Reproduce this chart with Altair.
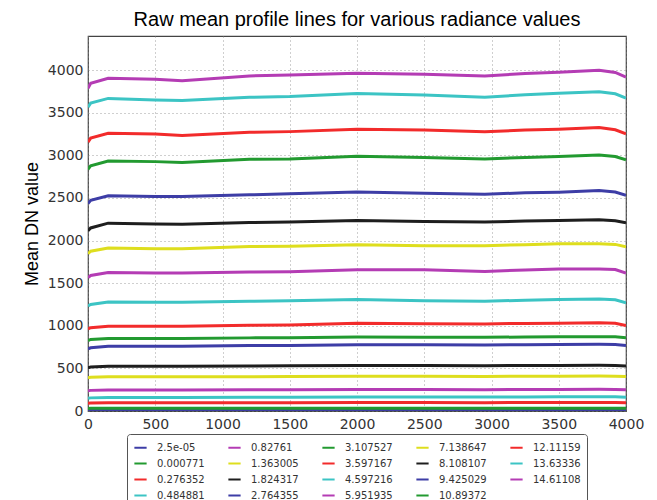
import altair as alt
import pandas as pd

# Column (pixel) positions along the profile where values were read
x_pixels = [0, 20, 150, 500, 700, 1200, 1500, 2000, 2500, 2950, 3250, 3500, 3800, 3920, 4000]

# Radiance values (legend labels), in plotting order
radiance_labels = ["2.5e-05", "0.000771", "0.276352", "0.484881", "0.82761",
                   "1.363005", "1.824317", "2.764355", "3.107527", "3.597167",
                   "4.597216", "5.951935", "7.138647", "8.108107", "9.425029",
                   "10.89372", "12.11159", "13.63336", "14.61108"]

# Mean DN values, one list per radiance
dn_00 = [8, 8, 9, 9, 9, 9, 9, 9, 9, 9, 9, 9, 9, 9, 9]
dn_01 = [30, 31, 32, 32, 32, 32, 32, 33, 33, 33, 33, 33, 33, 33, 32]
dn_02 = [92, 94, 97, 97, 97, 97, 98, 99, 99, 98, 99, 99, 100, 99, 97]
dn_03 = [150, 154, 158, 158, 158, 160, 161, 165, 164, 163, 165, 166, 167, 166, 162]
dn_04 = [238, 242, 246, 246, 246, 248, 249, 252, 251, 250, 252, 253, 254, 253, 249]
dn_05 = [390, 395, 401, 401, 401, 403, 404, 408, 407, 406, 408, 409, 410, 409, 404]
dn_06 = [508, 516, 526, 526, 526, 528, 530, 534, 533, 532, 533, 534, 536, 535, 529]
dn_07 = [728, 742, 760, 760, 760, 768, 770, 778, 776, 775, 778, 780, 782, 780, 768]
dn_08 = [826, 840, 852, 852, 852, 858, 860, 868, 866, 865, 868, 870, 872, 870, 858]
dn_09 = [962, 978, 995, 994, 994, 1005, 1010, 1030, 1024, 1022, 1028, 1030, 1034, 1030, 1002]
dn_10 = [1232, 1250, 1280, 1275, 1275, 1287, 1295, 1307, 1295, 1287, 1300, 1307, 1315, 1305, 1268]
dn_11 = [1565, 1590, 1626, 1619, 1619, 1631, 1635, 1658, 1658, 1638, 1655, 1666, 1666, 1660, 1618]
dn_12 = [1845, 1875, 1912, 1904, 1904, 1930, 1932, 1951, 1940, 1939, 1952, 1962, 1962, 1955, 1928]
dn_13 = [2115, 2148, 2204, 2194, 2192, 2212, 2217, 2234, 2224, 2217, 2228, 2235, 2244, 2232, 2208]
dn_14 = [2435, 2472, 2526, 2518, 2516, 2536, 2548, 2570, 2556, 2544, 2560, 2568, 2587, 2570, 2532]
dn_15 = [2835, 2878, 2934, 2926, 2915, 2954, 2958, 2990, 2973, 2958, 2975, 2985, 3005, 2985, 2948]
dn_16 = [3155, 3202, 3258, 3250, 3232, 3270, 3278, 3305, 3296, 3278, 3296, 3306, 3325, 3300, 3252]
dn_17 = [3565, 3612, 3668, 3650, 3642, 3680, 3689, 3726, 3707, 3680, 3712, 3727, 3745, 3722, 3672]
dn_18 = [3785, 3845, 3905, 3892, 3876, 3932, 3942, 3962, 3952, 3932, 3960, 3974, 3998, 3972, 3918]

all_series = [dn_00, dn_01, dn_02, dn_03, dn_04, dn_05, dn_06, dn_07, dn_08, dn_09,
              dn_10, dn_11, dn_12, dn_13, dn_14, dn_15, dn_16, dn_17, dn_18]

# matplotlib-classic style colour cycle (b, g, r, c, m, y, k) as it appears in the picture
cycle = ["#3d3da6", "#229a30", "#f22b2b", "#3cc4c4", "#b43cb4", "#dede1e", "#1e1e1e"]
series_colors = [cycle[i % 7] for i in range(len(radiance_labels))]

rows = []
for i, (lab, vals) in enumerate(zip(radiance_labels, all_series)):
    for xp, v in zip(x_pixels, vals):
        rows.append({"pixel": xp, "dn": v, "radiance": lab, "idx": i})
df = pd.DataFrame(rows)

grid_kw = dict(grid=True, gridDash=[1, 3], gridColor="#888", gridOpacity=0.8)

chart = alt.Chart(df).mark_line(strokeWidth=3, clip=True).encode(
    x=alt.X("pixel:Q",
            scale=alt.Scale(domain=[0, 4000], nice=False),
            axis=alt.Axis(values=list(range(0, 4001, 500)), format="d", title=None,
                          ticks=False, domain=False, labelPadding=6,
                          labelFont="DejaVu Sans", labelFontSize=14, labelColor="#333",
                          labelFlush=False, **grid_kw)),
    y=alt.Y("dn:Q",
            scale=alt.Scale(domain=[0, 4400], nice=False),
            axis=alt.Axis(values=list(range(0, 4001, 500)), format="d",
                          title="Mean DN value", ticks=False, domain=False, labelPadding=5,
                          labelFont="DejaVu Sans", labelFontSize=14, labelColor="#333",
                          titleFont="Liberation Sans", titleFontSize=18,
                          titleFontWeight="normal", titleColor="black", titlePadding=6,
                          **grid_kw)),
    color=alt.Color("radiance:N",
                    scale=alt.Scale(domain=radiance_labels, range=series_colors),
                    legend=alt.Legend(title=None, orient="none", legendX=39, legendY=398,
                                      direction="vertical", columns=5, columnPadding=19,
                                      rowPadding=3, symbolType="stroke", symbolSize=150,
                                      symbolStrokeWidth=2, labelFont="DejaVu Sans",
                                      labelFontSize=10, labelColor="#333", labelOffset=9,
                                      padding=6, strokeColor="#555", fillColor="white",
                                      cornerRadius=3)),
    order=alt.Order("pixel:Q"),
).properties(
    width=538,
    height=375,
    autosize=alt.AutoSizeParams(type="none"),
    padding={"left": 80, "top": 28, "right": 23, "bottom": 97},
    title=alt.TitleParams("Raw mean profile lines for various radiance values",
                          font="Liberation Sans", fontSize=20, fontWeight="normal",
                          color="black", anchor="middle", offset=6),
).configure_view(stroke="#444", strokeWidth=1.2)

chart.save("out.html", embed_options={"renderer": "svg", "actions": False})
